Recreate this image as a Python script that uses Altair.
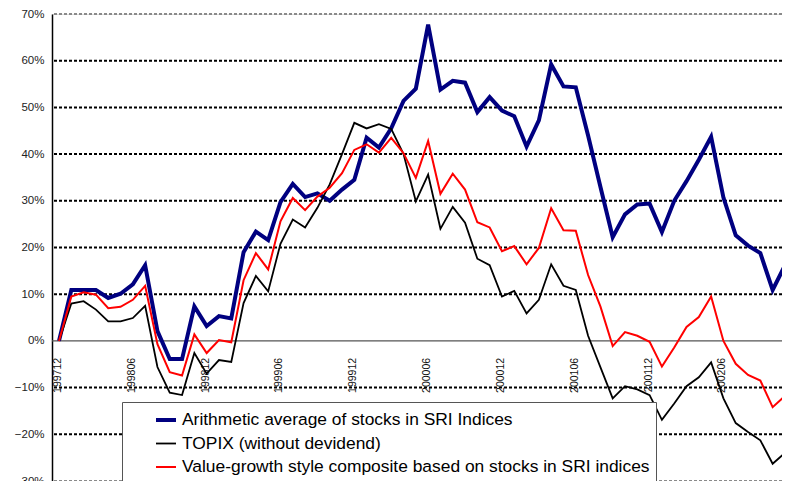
import altair as alt
import pandas as pd

# ---- data (cumulative return, %) ----
series_names = [
    "Arithmetic average of stocks in SRI Indices",
    "TOPIX (without devidend)",
    "Value-growth style composite based on stocks in SRI indices",
]

sri_avg = [0, 10.9, 10.9, 10.9, 9.2, 10.1, 12.1, 16.2, 2.1, -3.9,
           -3.9, 7.4, 3.2, 5.3, 4.8, 19.0, 23.4, 21.6, 29.7, 33.6,
           30.8, 31.6, 30.0, 32.4, 34.5, 43.5, 41.4, 45.5, 51.4, 54.0,
           67.7, 53.8, 55.7, 55.3, 49.0, 52.2, 49.3, 48.1, 41.6, 47.2,
           59.2, 54.5, 54.3, 44.0, 33.0, 22.2, 27.1, 29.2, 29.4, 23.3,
           30.0, 34.2, 38.8, 43.7, 30.7, 22.6, 20.4, 18.8, 10.9, 16.2,
           9.0]

topix = [0, 8.0, 8.5, 6.7, 4.2, 4.2, 4.9, 7.5, -5.6, -11.1,
         -11.6, -2.6, -7.0, -4.1, -4.5, 8.1, 13.9, 10.6, 20.8, 26.0,
         24.3, 28.5, 33.5, 40.0, 46.7, 45.5, 46.4, 45.4, 40.0, 29.9,
         35.6, 24.0, 28.7, 25.3, 17.6, 16.2, 9.5, 10.7, 5.9, 8.8,
         16.4, 11.8, 10.9, 1.1, -5.6, -12.3, -9.7, -10.4, -11.6, -16.9,
         -13.4, -9.7, -7.8, -4.6, -12.3, -17.6, -19.5, -21.3, -26.3, -24.0,
         -28.0]

value_growth = [0, 9.5, 10.4, 9.9, 7.0, 7.3, 8.8, 11.8, -0.7, -6.7,
                -7.4, 1.4, -2.6, 0.2, -0.3, 13.0, 18.8, 15.3, 25.6, 30.6,
                28.0, 30.9, 32.8, 35.9, 40.9, 42.1, 40.3, 43.5, 40.2, 34.9,
                42.8, 31.5, 35.8, 32.4, 25.4, 24.3, 19.2, 20.3, 16.4, 19.9,
                28.4, 23.7, 23.6, 14.1, 7.4, -1.1, 1.9, 1.1, -0.2, -5.5,
                -1.4, 3.0, 5.1, 9.5, 0.0, -4.9, -7.3, -8.5, -14.2, -11.8,
                -17.0]

tick_labels = ["199712", "199806", "199812", "199906", "199912", "200006",
               "200012", "200106", "200112", "200206", "200212"]
tick_positions = [0, 6, 12, 18, 24, 30, 36, 42, 48, 54, 60]

y_ticks = [-0.3, -0.2, -0.1, 0.0, 0.1, 0.2, 0.3, 0.4, 0.5, 0.6, 0.7]
grid_values = [-0.3, -0.2, -0.1, 0.1, 0.2, 0.3, 0.4, 0.5, 0.6, 0.7]

colors = ["#000080", "#000000", "#FF0000"]
widths = [4, 1.8, 2]

FONT = "Liberation Sans"

rows = []
for name, vals in zip(series_names, [sri_avg, topix, value_growth]):
    for i, v in enumerate(vals):
        rows.append({"i": i, "value": v / 100.0, "series": name})
df = pd.DataFrame(rows)

df_ticks = pd.DataFrame({"i": tick_positions, "label": tick_labels, "zero": [0.0] * len(tick_positions)})
df_grid = pd.DataFrame({"y": grid_values,
                        "edge": [v in (-0.3, 0.7) for v in grid_values]})

xscale = alt.Scale(domain=[-0.57, 58.76], nice=False, zero=False)
yscale = alt.Scale(domain=[-0.3, 0.7], nice=False, zero=False)

y_axis = alt.Axis(format="%", values=y_ticks, grid=False, ticks=False,
                  domainColor="#000000", domainWidth=1.5,
                  labelFont=FONT, labelFontSize=11.5, labelColor="#222222",
                  labelPadding=8, title=None, labelOverlap=False)

legend = alt.Legend(orient="none", legendX=70, legendY=388, title=None,
                    fillColor="white", strokeColor="#555555",
                    padding=6, symbolOffset=26, symbolSize=400,
                    labelOffset=4, labelFontSize=17.4, labelFont=FONT,
                    labelColor="#000000", labelLimit=0, rowPadding=3.5,
                    symbolType="stroke")

grid = alt.Chart(df_grid).mark_rule(strokeDash=[3, 2], strokeWidth=2).encode(
    y=alt.Y("y:Q", scale=yscale, axis=y_axis),
    color=alt.condition("datum.edge", alt.value("#8a8a8a"), alt.value("#000000")),
)

zero = alt.Chart(pd.DataFrame({"y": [0.0]})).mark_rule(color="#555555", strokeWidth=1.2).encode(
    y=alt.Y("y:Q", scale=yscale, axis=y_axis)
)

lines = alt.Chart(df).mark_line(clip=True, strokeJoin="miter").encode(
    x=alt.X("i:Q", scale=xscale, axis=None),
    y=alt.Y("value:Q", scale=yscale, axis=y_axis),
    color=alt.Color("series:N", scale=alt.Scale(domain=series_names, range=colors), legend=legend),
    strokeWidth=alt.StrokeWidth("series:N",
                                scale=alt.Scale(type="ordinal", domain=series_names, range=widths),
                                legend=legend),
    detail="series:N",
    order="i:Q",
)

xlabels = alt.Chart(df_ticks).mark_text(angle=270, align="right", baseline="middle", dx=-17, dy=-1,
                                        font=FONT, fontSize=10.5, color="#111111").encode(
    x=alt.X("i:Q", scale=xscale, axis=None),
    y=alt.Y("zero:Q", scale=yscale, axis=y_axis),
    text="label:N",
)

chart = alt.layer(grid, zero, xlabels, lines).properties(
    width=730, height=467,
    autosize=alt.AutoSizeParams(type="none"),
    padding={"left": 44, "top": 6, "right": 0, "bottom": 0},
).configure_view(stroke=None).configure(background="white")

chart.save("out.html", embed_options={"renderer": "svg", "actions": False})
